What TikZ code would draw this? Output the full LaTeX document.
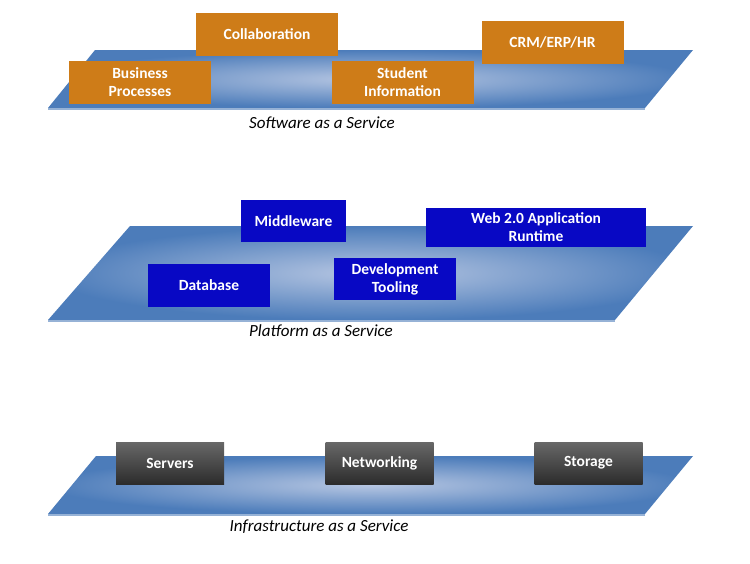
\documentclass[tikz,border=0pt]{standalone}
\usepackage{fontspec}
\setmainfont{Carlito}
\usetikzlibrary{positioning}
\definecolor{slab}{RGB}{76,124,186}
\definecolor{slabhi}{RGB}{182,198,226}
\definecolor{slabrim}{RGB}{150,178,214}
\definecolor{amber}{RGB}{206,124,24}
\definecolor{royal}{RGB}{8,8,196}
\definecolor{coaltop}{RGB}{104,104,104}
\definecolor{coalbot}{RGB}{44,44,44}

\begin{document}
\begin{tikzpicture}[
  x=1pt, y=-1pt,
  tile/.style={draw=none, text=white, inner sep=2pt, align=center,
               font=\bfseries\fontsize{15.5}{18}\selectfont},
  saas/.style={tile, fill=amber, minimum width=142pt, minimum height=43pt},
  paas/.style={tile, fill=royal, minimum height=42pt},
  iaas/.style={tile, top color=coaltop, bottom color=coalbot,
               minimum width=108pt, minimum height=42pt},
  plate/.style={inner color=slabhi, outer color=slab},
  rim/.style={draw=slabrim, line width=2pt},
  layer/.style={font=\itshape\fontsize{17}{20}\selectfont}]

  \useasboundingbox (0,0) rectangle (750,563);

  % --- software layer
  \shade[plate] (95,50) -- (693,50) -- (645,108) -- (48,108) -- cycle;
  \draw[rim] (48,109) -- (645,109);
  \node[saas] (collab)  at (267,34.5) {Collaboration};
  \node[saas] (crm)     at (552.5,42) {CRM/ERP/HR};
  \node[saas] (bizproc) at (140,82.5) {Business\\Processes};
  \node[saas] (student) at (402.5,82.5) {Student\\Information};
  \node[layer] (saaslbl) at (322,123) {Software as a Service};

  % --- platform layer
  \shade[plate] (130,226) -- (693,226) -- (615,320) -- (48,320) -- cycle;
  \draw[rim] (48,321) -- (615,321);
  \node[paas, minimum width=105pt] (mid)  at (293.5,221) {Middleware};
  \node[paas, minimum width=220pt, minimum height=39pt] (web)
    at (536,227.5) {Web 2.0 Application\\Runtime};
  \node[paas, minimum width=122pt, minimum height=43pt] (db)
    at (209,285.5) {Database};
  \node[paas, minimum width=122pt] (devtool) at (395,279) {Development\\Tooling};
  \node[layer] (paaslbl) at (321,331) {Platform as a Service};

  % --- infrastructure layer
  \shade[plate] (96,456) -- (693,456) -- (645,514) -- (48,514) -- cycle;
  \draw[rim] (48,515) -- (645,515);
  \node[iaas] (srv) at (170,463) {Servers};
  \node[iaas] (net) at (379.5,463) {Networking};
  \node[iaas] (sto) at (588.5,463) {Storage};
  \node[layer] (iaaslbl) at (319,527) {Infrastructure as a Service};
\end{tikzpicture}
\end{document}
